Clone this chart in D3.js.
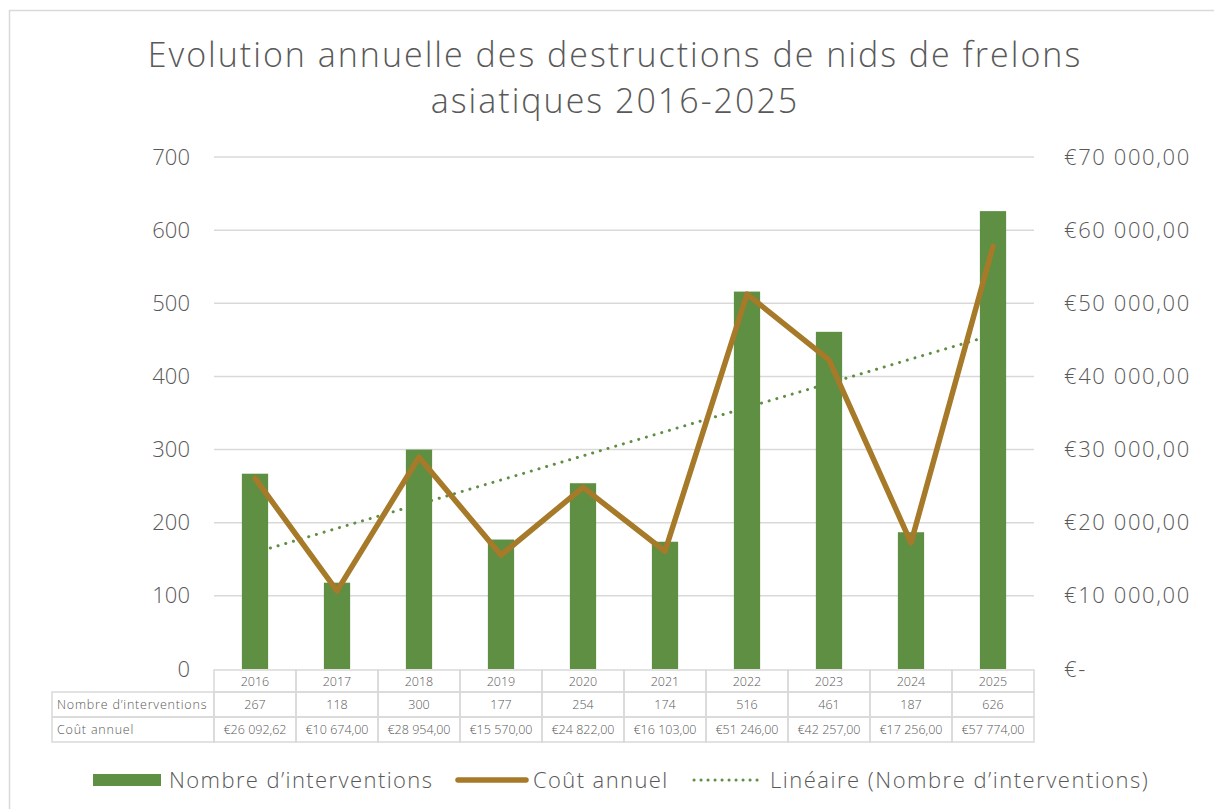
<!DOCTYPE html>
<html>
<head>
<meta charset="utf-8">
<script src="https://cdn.jsdelivr.net/npm/d3@7"></script>
<style>
  body { margin: 0; background: #fff; }
  text { font-family: 'Open Sans', 'Lato', sans-serif; font-weight: 300; fill: #595959; }
</style>
</head>
<body>
<svg id="chart" width="1214" height="809"></svg>
<script>
var years = ['2016', '2017', '2018', '2019', '2020', '2021', '2022', '2023', '2024', '2025']
var interventions = [267, 118, 300, 177, 254, 174, 516, 461, 187, 626]
var costs = [26092.62, 10674, 28954, 15570, 24822, 16103, 51246, 42257, 17256, 57774]
var leftTicks = [0, 100, 200, 300, 400, 500, 600, 700]
var rightTicks = [0, 10000, 20000, 30000, 40000, 50000, 60000, 70000]
var titleLines = ['Evolution annuelle des destructions de nids de frelons', 'asiatiques 2016-2025']
var seriesNames = ["Nombre d\u2019interventions", 'Co\u00fbt annuel', "Lin\u00e9aire (Nombre d\u2019interventions)"]

var green = '#5f8f42'
var brown = '#a67a29'
var gridColor = '#d9d9d9'

var svg = d3.select('#chart')

// outer frame
svg.append('rect')
  .attr('x', 9.5).attr('y', 10.5)
  .attr('width', 1300).attr('height', 900)
  .attr('fill', 'none').attr('stroke', gridColor).attr('stroke-width', 1.5)

var plotLeft = 214
var plotRight = 1034
var plotTop = 157
var plotBottom = 669

var x = d3.scaleBand().domain(years).range([plotLeft, plotRight]).padding(0)
var y = d3.scaleLinear().domain([0, 700]).range([plotBottom, plotTop])
var y2 = d3.scaleLinear().domain([0, 70000]).range([plotBottom, plotTop])

// title
svg.append('g').selectAll('text').data(titleLines).enter().append('text')
  .attr('x', 615)
  .attr('y', function (d, i) { return 67 + i * 46 })
  .attr('text-anchor', 'middle')
  .style('font-size', '34px')
  .style('letter-spacing', '2px')
  .text(function (d) { return d })

// gridlines
svg.append('g').selectAll('line').data(leftTicks.slice(1)).enter().append('line')
  .attr('x1', plotLeft).attr('x2', plotRight)
  .attr('y1', function (d) { return y(d) }).attr('y2', function (d) { return y(d) })
  .attr('stroke', gridColor).attr('stroke-width', 1.5)

// left axis
var leftAxis = svg.append('g')
  .attr('transform', 'translate(' + (plotLeft - 24) + ',0)')
  .call(d3.axisLeft(y).tickValues(leftTicks).tickSize(0).tickPadding(0))
leftAxis.select('.domain').remove()
leftAxis.selectAll('text').style('font-size', '22px').attr('fill', '#595959')

// right axis
var euro = function (v) {
  if (v === 0) return '\u20ac-'
  return '\u20ac' + d3.format(',.2f')(v).replace(/,/g, ' ').replace('.', ',')
}
var rightAxis = svg.append('g')
  .attr('transform', 'translate(' + (plotRight + 30) + ',0)')
  .call(d3.axisRight(y2).tickValues(rightTicks).tickFormat(euro).tickSize(0).tickPadding(0))
rightAxis.select('.domain').remove()
rightAxis.selectAll('text').style('font-size', '22px').style('letter-spacing', '1.6px').attr('fill', '#595959')

// bars
var barWidth = x.bandwidth() * 0.32
svg.append('g').selectAll('rect').data(interventions).enter().append('rect')
  .attr('x', function (d, i) { return x(years[i]) + (x.bandwidth() - barWidth) / 2 })
  .attr('y', function (d) { return y(d) })
  .attr('width', barWidth)
  .attr('height', function (d) { return y(0) - y(d) })
  .attr('fill', green)

// linear trend of interventions (least squares)
var n = interventions.length
var xs = d3.range(1, n + 1)
var mx = d3.mean(xs)
var my = d3.mean(interventions)
var slope = d3.sum(xs, function (v, i) { return (v - mx) * (interventions[i] - my) }) /
  d3.sum(xs, function (v) { return (v - mx) * (v - mx) })
var intercept = my - slope * mx
var trend = [xs[0], xs[n - 1]].map(function (v) { return intercept + slope * v })
var cx = function (i) { return x(years[i]) + x.bandwidth() / 2 }

svg.append('line')
  .attr('x1', cx(0)).attr('y1', y(trend[0]))
  .attr('x2', cx(n - 1)).attr('y2', y(trend[1]))
  .attr('stroke', green).attr('stroke-width', 3)
  .attr('stroke-dasharray', '0.1 7.9').attr('stroke-linecap', 'round')

// cost line
var line = d3.line()
  .x(function (d, i) { return cx(i) })
  .y(function (d) { return y2(d) })
svg.append('path')
  .datum(costs)
  .attr('d', line)
  .attr('fill', 'none')
  .attr('stroke', brown)
  .attr('stroke-width', 5.5)
  .attr('stroke-linejoin', 'round')
  .attr('stroke-linecap', 'round')

// data table
var table = svg.append('g')
var rowTops = [670, 692, 717, 742]
var labelLeft = 52
var cellStroke = function (sel) {
  sel.attr('fill', 'none').attr('stroke', gridColor).attr('stroke-width', 1.5)
}
// header row (years)
years.forEach(function (yr) {
  table.append('rect')
    .attr('x', x(yr)).attr('y', rowTops[0])
    .attr('width', x.bandwidth()).attr('height', rowTops[1] - rowTops[0])
    .call(cellStroke)
  table.append('text')
    .attr('x', x(yr) + x.bandwidth() / 2).attr('y', (rowTops[0] + rowTops[1]) / 2 + 4.5)
    .attr('text-anchor', 'middle').style('font-size', '12.5px')
    .text(yr)
})
var rows = [
  { label: seriesNames[0], values: interventions.map(String) },
  { label: seriesNames[1], values: costs.map(euro) }
]
rows.forEach(function (row, r) {
  var top = rowTops[r + 1]
  var h = rowTops[r + 2] - top
  table.append('rect')
    .attr('x', labelLeft).attr('y', top)
    .attr('width', plotLeft - labelLeft).attr('height', h)
    .call(cellStroke)
  table.append('text')
    .attr('x', labelLeft + 5).attr('y', top + h / 2 + 4.5)
    .style('font-size', '12.5px').style('letter-spacing', '0.8px')
    .text(row.label)
  row.values.forEach(function (v, i) {
    table.append('rect')
      .attr('x', x(years[i])).attr('y', top)
      .attr('width', x.bandwidth()).attr('height', h)
      .call(cellStroke)
    table.append('text')
      .attr('x', cx(i)).attr('y', top + h / 2 + 4.5)
      .attr('text-anchor', 'middle').style('font-size', '12.5px')
      .text(v)
  })
})

// legend
var legend = svg.append('g')
var legY = 780
legend.append('rect')
  .attr('x', 93).attr('y', legY - 6).attr('width', 68).attr('height', 12)
  .attr('fill', green)
legend.append('text').attr('x', 169).attr('y', legY + 8).style('font-size', '22px').style('letter-spacing', '1.4px').text(seriesNames[0])
legend.append('line')
  .attr('x1', 458).attr('x2', 526).attr('y1', legY).attr('y2', legY)
  .attr('stroke', brown).attr('stroke-width', 5.5).attr('stroke-linecap', 'round')
legend.append('text').attr('x', 533).attr('y', legY + 8).style('font-size', '22px').style('letter-spacing', '1.4px').text(seriesNames[1])
legend.append('line')
  .attr('x1', 694).attr('x2', 760).attr('y1', legY).attr('y2', legY)
  .attr('stroke', green).attr('stroke-width', 3)
  .attr('stroke-dasharray', '0.1 6.9').attr('stroke-linecap', 'round')
legend.append('text').attr('x', 770).attr('y', legY + 8).style('font-size', '22px').style('letter-spacing', '1.5px').text(seriesNames[2])
</script>
</body>
</html>
